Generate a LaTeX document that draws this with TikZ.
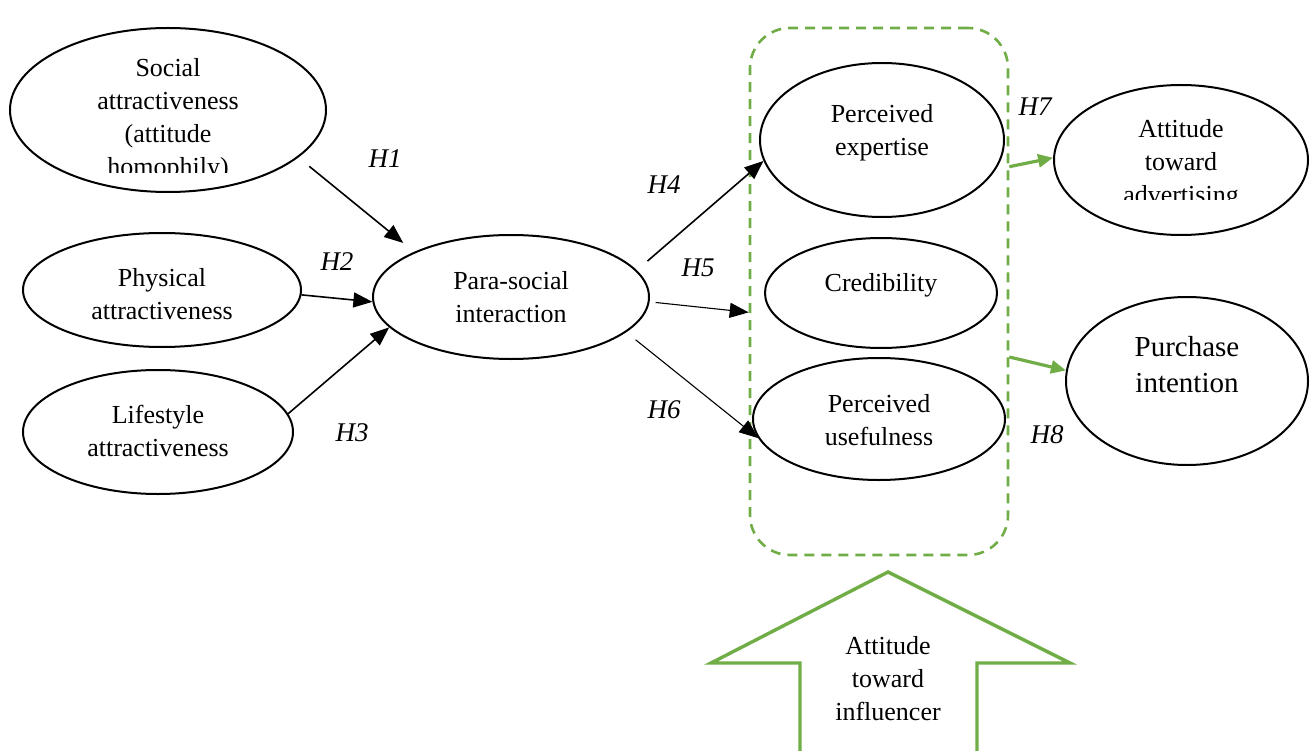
\documentclass[tikz,border=0pt]{standalone}
\usepackage{fontspec}
\setmainfont{Liberation Serif}
\usepackage{tikz}
\usetikzlibrary{arrows.meta,shapes.geometric,calc}
\definecolor{ink}{HTML}{000000}
\definecolor{leaf}{HTML}{70AD47}

\begin{document}
\begin{tikzpicture}[x=1pt, y=-1pt, >={Triangle[length=19pt, width=15pt]},
    oval/.style={ellipse, draw=ink, line width=2pt, inner sep=0pt},
    txt/.style={align=center, inner sep=0pt, font=\fontsize{26}{33}\selectfont},
    hyp/.style={inner sep=0pt, font=\fontsize{27}{30}\selectfont\itshape},
    link/.style={->, ink, line width=1.6pt},
    thinlink/.style={->, ink, line width=1.1pt},
    greenlink/.style={->, leaf, line width=3.2pt, >={Triangle[length=15pt, width=13pt]}}]
    \useasboundingbox (0,0) rectangle (1316,751);
    % the grouping box of the three source qualities
    \node[draw=leaf, line width=2.6pt, dash pattern=on 10pt off 7pt, rounded corners=40pt,
          minimum width=258pt, minimum height=527pt, inner sep=0pt] (grp) at (879,291.5) {};
    % left column
    \node[oval, minimum width=316pt, minimum height=164pt] (soc) at (168,110) {};
    \begin{scope}
      \clip (0,0) rectangle (1316,173);
      \node[txt] (soctxt) at (168,120) {Social\\attractiveness\\(attitude\\homophily)};
    \end{scope}
    \node[oval, minimum width=278pt, minimum height=114pt] (phy) at (162,290) {};
    \node[txt] (phytxt) at (162,294) {Physical\\attractiveness};
    \node[oval, minimum width=270pt, minimum height=124pt] (lif) at (158,432) {};
    \node[txt] (liftxt) at (158,431) {Lifestyle\\attractiveness};
    % middle
    \node[oval, minimum width=276pt, minimum height=124pt] (psi) at (511,297) {};
    \node[txt] (psitxt) at (511,297.5) {Para-social\\interaction};
    % inside the box
    \node[oval, minimum width=244pt, minimum height=154pt] (exp) at (882,140) {};
    \node[txt] (exptxt) at (882,133) {Perceived\\expertise};
    \node[oval, minimum width=232pt, minimum height=110pt] (cred) at (881,293) {};
    \node[txt] (credtxt) at (881,285) {Credibility};
    \node[oval, minimum width=252pt, minimum height=122pt] (use) at (879,419) {};
    \node[txt] (usetxt) at (879,420) {Perceived\\usefulness};
    % outcomes
    \node[oval, minimum width=254pt, minimum height=150pt] (adv) at (1181,160) {};
    \begin{scope}
      \clip (0,0) rectangle (1316,200);
      \node[txt] (advtxt) at (1181,164) {Attitude\\toward\\advertising};
    \end{scope}
    \node[oval, minimum width=242pt, minimum height=168pt] (pur) at (1187,381) {};
    \node[txt, font=\fontsize{29}{36}\selectfont] (purtxt) at (1187,365) {Purchase\\intention};
    % the moderating arrow
    \draw[leaf, line width=3.4pt] (888,572) -- (1070,663) -- (977,663) -- (977,753)
      -- (800,753) -- (800,663) -- (711,663) -- cycle;
    \node[txt] (inftxt) at (888,679) {Attitude\\toward\\influencer};
    % hypotheses
    \draw[link, shorten <=14pt, shorten >=14pt] (soc.-20) -- (psi.155);
    \draw[link] (phy.-2) -- (psi.182);
    \draw[link] (lif.8) -- (psi.-166);
    \draw[link, shorten <=14pt] (psi.12) -- (exp.-170);
    \draw[thinlink, shorten <=6pt] (psi.-2) -- (grp.west |- cred.-170);
    \draw[thinlink, shorten <=12pt] (psi.-17) -- (use.-171);
    \draw[greenlink] (grp.east |- exp.-13) -- (adv.179);
    \draw[greenlink] (grp.east |- use.north) -- (pur.175);
    \node[hyp] (h1) at (385,159) {H1};
    \node[hyp] (h2) at (337,262) {H2};
    \node[hyp] (h3) at (352,433) {H3};
    \node[hyp] (h4) at (664,185) {H4};
    \node[hyp] (h5) at (698,268) {H5};
    \node[hyp] (h6) at (664,410) {H6};
    \node[hyp] (h7) at (1035,107) {H7};
    \node[hyp] (h8) at (1047,435) {H8};
\end{tikzpicture}
\end{document}
